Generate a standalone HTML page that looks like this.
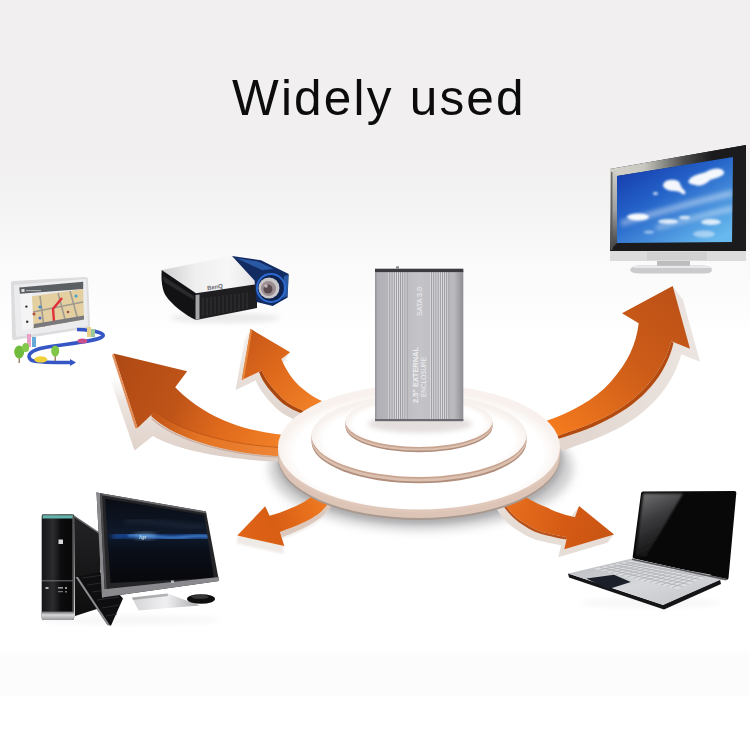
<!DOCTYPE html>
<html><head><meta charset="utf-8">
<style>
html,body{margin:0;padding:0;width:750px;height:750px;overflow:hidden;background:#fff;}
svg{display:block;position:absolute;left:0;top:0;}
.t{position:absolute;left:0;top:0;width:750px;text-align:center;font-family:"Liberation Sans",sans-serif;}
</style></head><body>
<svg width="750" height="750" viewBox="0 0 750 750">
<defs>
  <linearGradient id="bg" gradientUnits="userSpaceOnUse" x1="0" y1="0" x2="0" y2="750">
    <stop offset="0" stop-color="#f1eff0"/>
    <stop offset="0.2" stop-color="#f1eff0"/>
    <stop offset="0.273" stop-color="#f4f3f3"/>
    <stop offset="0.333" stop-color="#f9f9f9"/>
    <stop offset="0.413" stop-color="#fdfdfd"/>
    <stop offset="0.45" stop-color="#ffffff"/>
    <stop offset="1" stop-color="#ffffff"/>
  </linearGradient>
  <linearGradient id="band" x1="0" y1="0" x2="0" y2="1">
    <stop offset="0" stop-color="#ffffff"/>
    <stop offset="0.5" stop-color="#f8f8f8"/>
    <stop offset="1" stop-color="#ffffff"/>
  </linearGradient>
  <linearGradient id="tvscr" x1="0" y1="0" x2="0.8" y2="1">
    <stop offset="0" stop-color="#1232a6"/>
    <stop offset="0.45" stop-color="#2462c8"/>
    <stop offset="1" stop-color="#66b8ee"/>
  </linearGradient>
  <linearGradient id="orange" x1="0" y1="0" x2="1" y2="1">
    <stop offset="0" stop-color="#c4561a"/>
    <stop offset="0.5" stop-color="#e8721f"/>
    <stop offset="1" stop-color="#f08a30"/>
  </linearGradient>
  <linearGradient id="hdd" x1="0" y1="0" x2="1" y2="0">
    <stop offset="0" stop-color="#909096"/>
    <stop offset="0.03" stop-color="#b0b0b6"/>
    <stop offset="0.5" stop-color="#c4c4c8"/>
    <stop offset="0.9" stop-color="#b8b8bd"/>
    <stop offset="1" stop-color="#8c8c92"/>
  </linearGradient>
  <radialGradient id="disc" cx="0.5" cy="0.55" r="0.5">
    <stop offset="0" stop-color="#ffffff"/>
    <stop offset="0.88" stop-color="#ffffff"/>
    <stop offset="1" stop-color="#f8f1ed"/>
  </radialGradient>
  <radialGradient id="disc3" cx="0.5" cy="0.55" r="0.5">
    <stop offset="0" stop-color="#ffffff"/>
    <stop offset="0.88" stop-color="#ffffff"/>
    <stop offset="1" stop-color="#f8f2ee"/>
  </radialGradient>
  <filter id="blur1" x="-20%" y="-20%" width="140%" height="140%"><feGaussianBlur stdDeviation="1.2"/></filter>
  <filter id="blur05" x="-20%" y="-20%" width="140%" height="140%"><feGaussianBlur stdDeviation="0.6"/></filter>
  <filter id="blur2" x="-30%" y="-30%" width="160%" height="160%"><feGaussianBlur stdDeviation="2.5"/></filter>
  <filter id="blur4" x="-50%" y="-50%" width="200%" height="200%"><feGaussianBlur stdDeviation="5"/></filter>
  <linearGradient id="tvtop" gradientUnits="userSpaceOnUse" x1="610" y1="0" x2="746" y2="0">
    <stop offset="0" stop-color="#d4d4cc"/>
    <stop offset="0.25" stop-color="#c8c8c0"/>
    <stop offset="0.55" stop-color="#4a4a4a"/>
    <stop offset="0.75" stop-color="#1b1b1d"/>
    <stop offset="1" stop-color="#1b1b1d"/>
  </linearGradient>
  <linearGradient id="tvleft" gradientUnits="userSpaceOnUse" x1="0" y1="170" x2="0" y2="250">
    <stop offset="0" stop-color="#d0d0c8"/>
    <stop offset="0.5" stop-color="#a0a0a0"/>
    <stop offset="1" stop-color="#3a3a3a"/>
  </linearGradient>
  <linearGradient id="projtop" x1="0" y1="0" x2="1" y2="0">
    <stop offset="0" stop-color="#cfcfd1"/>
    <stop offset="0.35" stop-color="#efeff0"/>
    <stop offset="0.7" stop-color="#f7f7f8"/>
    <stop offset="1" stop-color="#e4e4e6"/>
  </linearGradient>
  <linearGradient id="olb" gradientUnits="userSpaceOnUse" x1="120" y1="360" x2="300" y2="445">
    <stop offset="0" stop-color="#b04a14"/>
    <stop offset="0.35" stop-color="#bf5418"/>
    <stop offset="0.6" stop-color="#e06a1c"/>
    <stop offset="0.85" stop-color="#ee7c24"/>
    <stop offset="1" stop-color="#f4882e"/>
  </linearGradient>
  <linearGradient id="osu" gradientUnits="userSpaceOnUse" x1="245" y1="335" x2="315" y2="405">
    <stop offset="0" stop-color="#c8581a"/>
    <stop offset="0.5" stop-color="#e06a1c"/>
    <stop offset="1" stop-color="#f08028"/>
  </linearGradient>
  <linearGradient id="orb" gradientUnits="userSpaceOnUse" x1="680" y1="290" x2="555" y2="430">
    <stop offset="0" stop-color="#bc5016"/>
    <stop offset="0.45" stop-color="#cc5c18"/>
    <stop offset="1" stop-color="#f47a1e"/>
  </linearGradient>
  <linearGradient id="oll" gradientUnits="userSpaceOnUse" x1="240" y1="535" x2="325" y2="500">
    <stop offset="0" stop-color="#e06418"/>
    <stop offset="0.4" stop-color="#d85e14"/>
    <stop offset="1" stop-color="#f07a22"/>
  </linearGradient>
  <linearGradient id="olr" gradientUnits="userSpaceOnUse" x1="505" y1="500" x2="612" y2="535">
    <stop offset="0" stop-color="#e8701e"/>
    <stop offset="0.6" stop-color="#d45a14"/>
    <stop offset="1" stop-color="#c85414"/>
  </linearGradient>
  <radialGradient id="disc2" cx="0.5" cy="0.55" r="0.5">
    <stop offset="0" stop-color="#ffffff"/>
    <stop offset="0.88" stop-color="#ffffff"/>
    <stop offset="1" stop-color="#f8f2ee"/>
  </radialGradient>
  <linearGradient id="towfront" x1="0" y1="0" x2="1" y2="0">
    <stop offset="0" stop-color="#161618"/>
    <stop offset="0.35" stop-color="#2c2c2e"/>
    <stop offset="0.6" stop-color="#0c0c0e"/>
    <stop offset="1" stop-color="#070708"/>
  </linearGradient>
  <linearGradient id="towside" x1="0" y1="0" x2="0" y2="1">
    <stop offset="0" stop-color="#232325"/>
    <stop offset="1" stop-color="#0d0d0e"/>
  </linearGradient>
  <linearGradient id="towbot" x1="0" y1="0" x2="0" y2="1">
    <stop offset="0" stop-color="#6a6a6e"/>
    <stop offset="0.4" stop-color="#d8d8da"/>
    <stop offset="1" stop-color="#9a9a9e"/>
  </linearGradient>
  <linearGradient id="hpscr" x1="0" y1="0" x2="0" y2="1">
    <stop offset="0" stop-color="#0a0d14"/>
    <stop offset="0.45" stop-color="#0f1a2c"/>
    <stop offset="0.6" stop-color="#0a0f1a"/>
    <stop offset="1" stop-color="#07080b"/>
  </linearGradient>
  <linearGradient id="stand" x1="0" y1="0" x2="1" y2="0">
    <stop offset="0" stop-color="#d4d4d6"/>
    <stop offset="0.5" stop-color="#f0f0f2"/>
    <stop offset="1" stop-color="#a8a8ac"/>
  </linearGradient>
  <linearGradient id="deck" x1="0" y1="0" x2="1" y2="1">
    <stop offset="0" stop-color="#b8b9bc"/>
    <stop offset="0.5" stop-color="#d6d7da"/>
    <stop offset="1" stop-color="#c2c3c6"/>
  </linearGradient>
  <linearGradient id="lbside" gradientUnits="userSpaceOnUse" x1="155" y1="0" x2="300" y2="0">
    <stop offset="0" stop-color="#c45618"/>
    <stop offset="0.3" stop-color="#e47424"/>
    <stop offset="1" stop-color="#f08a3a"/>
  </linearGradient>
  <linearGradient id="lapref" gradientUnits="userSpaceOnUse" x1="645" y1="495" x2="668" y2="545">
    <stop offset="0" stop-color="#6a6a6c"/>
    <stop offset="0.45" stop-color="#3a3a3c"/>
    <stop offset="1" stop-color="#141414"/>
  </linearGradient>
  <linearGradient id="bandtop" x1="0" y1="0" x2="0" y2="1">
    <stop offset="0" stop-color="#fcfcfc" stop-opacity="0"/>
    <stop offset="1" stop-color="#fcfcfc"/>
  </linearGradient>
  <linearGradient id="shs" gradientUnits="userSpaceOnUse" x1="0" y1="335" x2="0" y2="415">
    <stop offset="0" stop-color="#f0ebe8" stop-opacity="0.3"/>
    <stop offset="0.4" stop-color="#e8dfda"/>
    <stop offset="1" stop-color="#dfd3cc"/>
  </linearGradient>
  <clipPath id="hpclip"><polygon points="105,498.5 204,515 214,578 110.5,583"/></clipPath>
  <clipPath id="tvclip"><polygon points="617,176 733,157 732,242 617,243"/></clipPath>
  <clipPath id="rbclip"><polygon points="540,270 750,270 750,470 540,470 540,345 648,345 648,300 540,300"/></clipPath>
</defs>
<rect x="0" y="0" width="750" height="750" fill="url(#bg)"/>
<rect x="0" y="656" width="750" height="40" fill="#fcfcfc"/>
<rect x="0" y="650" width="750" height="6" fill="url(#bandtop)"/>

<!-- ===== TV ===== -->
<g id="tv">
  <polygon points="610,169 746,145 746,252 610,252" fill="#1b1b1d"/>
  <polygon points="610,169 746,145 746,158 733,157.5 617,176 610,176" fill="url(#tvtop)"/>
  <polygon points="610,169 617,172 617,243 610,251" fill="url(#tvleft)"/>
  <polygon points="611,172 612.5,172 612.5,250 611,250" fill="#555" opacity="0.8"/>
  <polygon points="617,176 733,157 732,242 617,243" fill="url(#tvscr)"/>
  <g fill="#ffffff" clip-path="url(#tvclip)">
    <g filter="url(#blur2)" opacity="0.45">
      <path d="M620,221 C 650,212 690,200 733,190 L733,196 C 690,206 655,216 622,226 Z"/>
      <path d="M655,226 C 680,220 705,212 733,206 L733,211 C 705,217 680,224 657,230 Z"/>
    </g>
    <g filter="url(#blur1)">
      <path d="M689,180 C 692,175 700,174 706,172 C 712,168 722,167 724,172 C 725,176 716,178 710,180 C 706,184 700,187 695,185 C 690,184 687,183 689,180 Z" opacity="0.95"/>
      <path d="M664,183 C 666,179 674,179 678,181 C 681,183 680,187 684,190 C 687,193 685,196 681,193 C 677,190 672,192 668,190 C 663,188 662,185 664,183 Z" opacity="0.95"/>
      <ellipse cx="655.5" cy="193.5" rx="2.5" ry="1.6" opacity="0.8"/>
      <ellipse cx="638" cy="217" rx="11" ry="3.5" opacity="0.95"/>
      <ellipse cx="668" cy="221.5" rx="10" ry="2.6" opacity="0.8"/>
      <ellipse cx="684.5" cy="217.5" rx="5.5" ry="1.8" opacity="0.75"/>
      <ellipse cx="711" cy="222" rx="10" ry="3" opacity="0.8"/>
      <ellipse cx="704" cy="234" rx="11" ry="3.5" opacity="0.45"/>
      <ellipse cx="649" cy="232" rx="5" ry="1.5" opacity="0.5"/>
    </g>
  </g>
  <rect x="610" y="251" width="136" height="10" fill="#dcdcdc"/>
  <rect x="647" y="252" width="60" height="8" fill="#d0d0d0"/>
  <rect x="657" y="261" width="33" height="5" fill="#bdbdbd"/>
  <path d="M630,270 Q631,265.5 640,265.5 L704,265.5 Q712,266 712,270 Q712,273.5 704,273.5 L640,273.5 Q631,273.5 630,270 Z" fill="#cbcbcd"/>
  <rect x="634" y="266" width="76" height="2" fill="#e8e8ea"/>
</g>
<!-- ===== Projector ===== -->
<g id="proj">
  <ellipse cx="225" cy="318" rx="55" ry="5" fill="#dcdcdc" filter="url(#blur2)" opacity="0.6"/>
  <polygon points="161.7,269.9 232,256 255,278 257,284 196,293.3" fill="url(#projtop)"/>
  <path d="M161.7,269.9 L196,293.3 L196,320 C 185,315 172,305 166,296 C 162,290 161,280 161.7,269.9 Z" fill="#121214"/>
  <path d="M163,276 L194,296 L194,300 L164,282 Z" fill="#3a3a3c" opacity="0.6"/>
  <polygon points="196,293.3 257,284 257,308 196,320" fill="#1e1e20"/>
  <polygon points="195.5,295 199.5,294.5 199.5,319 195.5,320" fill="#a4a4a8"/>
  <g stroke="#3a3a3c" stroke-width="0.8">
    <line x1="203" y1="298" x2="203" y2="316"/><line x1="207" y1="297.5" x2="207" y2="315.5"/><line x1="211" y1="297" x2="211" y2="315"/><line x1="215" y1="296.5" x2="215" y2="314"/><line x1="219" y1="296" x2="219" y2="313.5"/><line x1="223" y1="295.5" x2="223" y2="313"/><line x1="227" y1="295" x2="227" y2="312"/><line x1="231" y1="294.5" x2="231" y2="311.5"/><line x1="235" y1="294" x2="235" y2="311"/><line x1="239" y1="293.5" x2="239" y2="310"/><line x1="243" y1="293" x2="243" y2="309.5"/><line x1="247" y1="292.5" x2="247" y2="309"/>
  </g>
  <polygon points="232,256 261,260.3 288.7,274.1 287.6,297.6 272.7,306.1 256.7,301.9 254.5,280.5" fill="#122c62"/>
  <polygon points="236,258 258,261.5 274,269 262,270" fill="#3a78d0" opacity="0.6"/>
  <polygon points="284,276 288.5,275 287.5,296 283,298" fill="#3a78d0" opacity="0.6"/>
  <circle cx="271" cy="288" r="15" fill="#2d6ad0"/>
  <circle cx="271" cy="288" r="13" fill="#0e2350"/>
  <circle cx="269" cy="288" r="10.5" fill="#c9c6c8"/>
  <circle cx="268.5" cy="288.5" r="7.5" fill="#9a8c90"/>
  <circle cx="268" cy="289" r="4.5" fill="#5a4a50"/>
  <circle cx="266" cy="286" r="1.8" fill="#e8e0e4" opacity="0.7"/>
  <text x="207" y="289" font-family="Liberation Sans, sans-serif" font-size="6" font-weight="bold" fill="#6a6a70" transform="rotate(-9 215 287)">BenQ</text>
</g>
<!-- ===== GPS ===== -->
<g id="gps" filter="url(#blur05)">
  <path d="M11,284 Q10,281 14,281 L85,277 Q88,277 88,280 L90,325 Q90,328 87,328.5 L15,340 Q12,340.5 12,337 Z" fill="#dcdcde"/>
  <path d="M14,285 L86,279 L88,326 L16,337 Z" fill="#ececee"/>
  <path d="M20,288 L32,287 L33.6,328.2 L22,331 Z" fill="#f4f4f5"/>
  <polygon points="19.2,287.4 83.2,281.8 83.2,289 20,293.8" fill="#5a5e64"/>
  <rect x="21.5" y="289" width="3" height="3" fill="#ddd"/>
  <rect x="26" y="290" width="15" height="1.2" fill="#aaa"/>
  <polygon points="32,296.2 83.2,289 84,319.4 33.6,328.2" fill="#e3cf9f"/>
  <g stroke="#9a9590" stroke-width="1.6" fill="none" opacity="0.9">
    <path d="M40,296 L44,327"/><path d="M58,293 L66,323"/><path d="M33,312 L83,302"/><path d="M70,291 L78,320"/>
  </g>
  <path d="M62,298 L53,309 L54,321" stroke="#e0303a" stroke-width="2.4" fill="none"/>
  <circle cx="40" cy="307" r="1.6" fill="#3a8ad0"/><circle cx="40" cy="318" r="1.5" fill="#4a6ad0"/><circle cx="34" cy="314" r="1.5" fill="#b05040"/><circle cx="76" cy="296" r="1.5" fill="#3aa0d0"/><circle cx="68" cy="312" r="1.3" fill="#a05040"/>
  <polygon points="34,324 84,315.5 84,319.4 33.6,328.2" fill="#7a7a7e"/>
  <circle cx="26.4" cy="306.6" r="1.2" fill="#333"/>
  <circle cx="27.2" cy="321.8" r="1.2" fill="#333"/>
  <path d="M77,329.5 C 95,330 110,334 100,338 C 90,342 65,344 45,347.5 C 30,350 26,356 31,360 C 36,363 55,362.5 72,362.5" fill="none" stroke="#3556c4" stroke-width="3.6"/>
  <polygon points="70,359 76,362.6 70,366" fill="#3556c4"/>
  <rect x="27" y="334" width="4" height="13" fill="#e9a0c6"/>
  <rect x="32" y="337" width="4" height="10" fill="#66a8d8"/>
  <rect x="87" y="327" width="4" height="10" fill="#e6d08a"/>
  <rect x="91" y="329" width="4" height="8" fill="#9cc8a0"/>
  <line x1="19.2" y1="352" x2="19.2" y2="363" stroke="#8a6a4a" stroke-width="1.2"/>
  <line x1="55.2" y1="352" x2="55.2" y2="361" stroke="#8a6a4a" stroke-width="1.2"/>
  <ellipse cx="19.2" cy="352" rx="5" ry="6.5" fill="#70bb3a"/>
  <ellipse cx="25.6" cy="347.4" rx="3.5" ry="4.5" fill="#84c84a"/>
  <ellipse cx="55.2" cy="351" rx="4" ry="5.5" fill="#80c648"/>
  <ellipse cx="40.8" cy="359.4" rx="6.5" ry="3.2" fill="#f0d03a"/>
  <ellipse cx="82.4" cy="341" rx="5" ry="2.5" fill="#c8508a"/>
</g>
<!-- ===== Arrows & platform ===== -->
<defs>
<path id="lba" d="M113.6,353.6 L187.2,371.2 L175.2,387.2 C 200,413 240,434 300,436 L300,448 C 240,448 180,433 155.2,411.2 L137.6,428 Z"/>
<path id="sua" d="M250.5,328.8 L290.1,352.3 L281.3,358.9 C 286,370 293,381 303,389 C 308,393 313,397 322,401 L304,411 C 295,407 288,404 282,398 C 274,390 266,381 261.5,370.6 L241.7,380.1 Z"/>
<path id="rba" d="M672.7,286 L690,348.7 L671.3,341.3 C 663,372 640,400 605,417 C 585,427 568,432 552,438 L546,421 C 570,413 595,400 611,381.6 C 628,362 636,345 638.7,323.3 L622,313.3 Z"/>
<path id="lla" d="M237.3,535.6 L265.2,506.3 L269.6,515.8 C 280,513 295,507 303,502.6 C 307,500 310,498 314,494 L330,501 C 326,507 322,511 318,514.3 C 310,520 300,525 279.9,531.9 L284.3,545.9 Z"/>
<path id="lra" d="M614.1,534.4 L579,506 L575,517.3 C 562,514 553,511 548.3,508 C 538,504 530,500 521,494 L 500,497 C 508,510 515,518 524.3,522.7 C 532,528 540,532 548.3,533.3 C 555,535 561,536 567,537.3 L564.3,549.3 Z"/>
<linearGradient id="shl" gradientUnits="userSpaceOnUse" x1="0" y1="375" x2="0" y2="460">
    <stop offset="0" stop-color="#f4f0ee" stop-opacity="0"/>
    <stop offset="0.3" stop-color="#ece4df"/>
    <stop offset="1" stop-color="#ddcfc6"/>
  </linearGradient>
  <linearGradient id="shr" gradientUnits="userSpaceOnUse" x1="700" y1="0" x2="560" y2="0">
    <stop offset="0" stop-color="#ece6e2"/>
    <stop offset="1" stop-color="#e2d6cf"/>
  </linearGradient>
</defs>
<g id="arrows">
<ellipse cx="421" cy="468" rx="152" ry="62" fill="#c6c6c8" opacity="0.85" filter="url(#blur4)"/>
<ellipse cx="420" cy="461" rx="143" ry="63" fill="#a8a8aa" opacity="0.85" filter="url(#blur2)"/>
<path d="M110.5,380 L134.5,450.5 L152.8,436 C 180,452 240,462 300,462 L300,448 C 240,448 180,433 155.2,411.2 L137.6,428 L113.6,353.6 Z" fill="url(#shl)" filter="url(#blur05)"/>
<path d="M156,408 C 180,430 240,445 300,445 L300,457 C 240,457 178,442 151,416 Z" fill="url(#lbside)"/>
<path d="M152,418 C 180,443 240,457 300,457 L300,458.5 C 240,458.5 178,444 151,419 Z" fill="#c8a898" opacity="0.8"/>
<use href="#lba" fill="url(#olb)"/>
<path d="M155.2,411.2 C 180,433 240,448 300,448" fill="none" stroke="#a8460e" stroke-width="0.9" opacity="0.6"/>
<path d="M113.6,353.6 L137.6,428 L135.5,428.5 L112,355 Z" fill="#dd7434" opacity="0.8"/>
<g fill="url(#shs)" filter="url(#blur05)"><use href="#sua" transform="translate(-0.50,0.83)"/><use href="#sua" transform="translate(-1.00,1.67)"/><use href="#sua" transform="translate(-1.50,2.50)"/><use href="#sua" transform="translate(-2.00,3.33)"/><use href="#sua" transform="translate(-2.50,4.17)"/><use href="#sua" transform="translate(-3.00,5.00)"/><use href="#sua" transform="translate(-3.50,5.83)"/><use href="#sua" transform="translate(-4.00,6.67)"/><use href="#sua" transform="translate(-4.50,7.50)"/><use href="#sua" transform="translate(-5.00,8.33)"/><use href="#sua" transform="translate(-5.50,9.17)"/><use href="#sua" transform="translate(-6.00,10.00)"/></g>
<path d="M261.5,370.6 C 266,381 274,390 282,398 C 288,404 295,407 304,411 L303,414 C 293,410 285,406 279,400 C 271,392 263,383 259,372 Z" fill="#a9470f"/>
<use href="#sua" fill="url(#osu)"/>
<path d="M250.5,328.8 L241.7,380.1 L244,379 L252,331 Z" fill="#f09a50" opacity="0.7"/>
<g fill="url(#shr)" filter="url(#blur05)" clip-path="url(#rbclip)"><use href="#rba" transform="translate(0.71,0.93)"/><use href="#rba" transform="translate(1.43,1.86)"/><use href="#rba" transform="translate(2.14,2.79)"/><use href="#rba" transform="translate(2.86,3.71)"/><use href="#rba" transform="translate(3.57,4.64)"/><use href="#rba" transform="translate(4.29,5.57)"/><use href="#rba" transform="translate(5.00,6.50)"/><use href="#rba" transform="translate(5.71,7.43)"/><use href="#rba" transform="translate(6.43,8.36)"/><use href="#rba" transform="translate(7.14,9.29)"/><use href="#rba" transform="translate(7.86,10.21)"/><use href="#rba" transform="translate(8.57,11.14)"/><use href="#rba" transform="translate(9.29,12.07)"/><use href="#rba" transform="translate(10.00,13.00)"/></g>
<path d="M671.3,341.3 C 663,372 640,400 605,417 C 585,427 568,432 552,438 L553,440.5 C 570,435 588,430 607,420 C 643,402 666,375 673.5,343 Z" fill="#b34a10"/>
<use href="#rba" fill="url(#orb)"/>
<g fill="#ebe5e1" filter="url(#blur1)" opacity="0.8"><use href="#lla" transform="translate(-0.12,1.00)"/><use href="#lla" transform="translate(-0.25,2.00)"/><use href="#lla" transform="translate(-0.38,3.00)"/><use href="#lla" transform="translate(-0.50,4.00)"/><use href="#lla" transform="translate(-0.62,5.00)"/><use href="#lla" transform="translate(-0.75,6.00)"/><use href="#lla" transform="translate(-0.88,7.00)"/><use href="#lla" transform="translate(-1.00,8.00)"/></g>
<path d="M279.9,531.9 C 300,525 310,520 318,514.3 C 322,511 326,507 330,501 L332,505 C 328,511 324,515 320,518 C 312,524 301,530 282,537 Z" fill="#dcc8bc"/>
<use href="#lla" fill="url(#oll)"/>
<g fill="#e6ddd7" filter="url(#blur05)" ><use href="#lra" transform="translate(-0.75,1.00)"/><use href="#lra" transform="translate(-1.50,2.00)"/><use href="#lra" transform="translate(-2.25,3.00)"/><use href="#lra" transform="translate(-3.00,4.00)"/><use href="#lra" transform="translate(-3.75,5.00)"/><use href="#lra" transform="translate(-4.50,6.00)"/><use href="#lra" transform="translate(-5.25,7.00)"/><use href="#lra" transform="translate(-6.00,8.00)"/></g>
<path d="M500,497 C 508,510 515,518 524.3,522.7 C 532,528 540,532 548.3,533.3 C 555,535 561,536 567,537.3 L566.5,539.5 C 560,538.5 553,537 547,535.5 C 538,533.5 530,530 523,525 C 513,519 506,511 499,499 Z" fill="#b8501a"/>
<use href="#lra" fill="url(#olr)"/>
</g>

<!-- ===== Platform ===== -->
<g id="platform">
  <g filter="url(#blur05)">
  <ellipse cx="419" cy="457.5" rx="141" ry="62.5" fill="#a89a90"/>
  <ellipse cx="419" cy="455.5" rx="141" ry="62.5" fill="#dcc4b6"/>
  <ellipse cx="419" cy="450" rx="141" ry="62.5" fill="#e0c8ba"/>
  </g>
  <ellipse cx="419" cy="447" rx="141" ry="62.5" fill="url(#disc)"/>
  <g filter="url(#blur05)">
  <ellipse cx="419" cy="441.8" rx="107.5" ry="41.5" fill="#b08e7c"/>
  <ellipse cx="419" cy="440" rx="107.5" ry="41.5" fill="#dcc0b0"/>
  <ellipse cx="419" cy="437.2" rx="107.5" ry="41.5" fill="#c8a490"/>
  </g>
  <ellipse cx="419" cy="435.5" rx="107.5" ry="41.5" fill="url(#disc2)"/>
  <g filter="url(#blur05)">
  <ellipse cx="419" cy="426.8" rx="73.5" ry="25.4" fill="#b08e7c"/>
  <ellipse cx="419" cy="425.2" rx="73.5" ry="25.4" fill="#dcc0b0"/>
  <ellipse cx="419" cy="423.2" rx="73.5" ry="25.4" fill="#c8a490"/>
  </g>
  <ellipse cx="419" cy="421.6" rx="73.5" ry="25.4" fill="url(#disc3)"/>
  <ellipse cx="420" cy="424" rx="52" ry="9" fill="#d9d2d0" opacity="0.7" filter="url(#blur2)"/>
</g>

<!-- ===== HDD ===== -->
<g id="hdd">
  <rect x="375" y="270" width="88.3" height="151" fill="url(#hdd)"/>
  <rect x="388.50" y="272" width="0.9" height="147" fill="#e2e2e6"/>
  <rect x="389.50" y="272" width="0.7" height="147" fill="#909096"/>
  <rect x="390.65" y="272" width="0.9" height="147" fill="#e2e2e6"/>
  <rect x="391.65" y="272" width="0.7" height="147" fill="#909096"/>
  <rect x="392.80" y="272" width="0.9" height="147" fill="#e2e2e6"/>
  <rect x="393.80" y="272" width="0.7" height="147" fill="#909096"/>
  <rect x="394.95" y="272" width="0.9" height="147" fill="#e2e2e6"/>
  <rect x="395.95" y="272" width="0.7" height="147" fill="#909096"/>
  <rect x="397.10" y="272" width="0.9" height="147" fill="#e2e2e6"/>
  <rect x="398.10" y="272" width="0.7" height="147" fill="#909096"/>
  <rect x="399.25" y="272" width="0.9" height="147" fill="#e2e2e6"/>
  <rect x="400.25" y="272" width="0.7" height="147" fill="#909096"/>
  <rect x="401.40" y="272" width="0.9" height="147" fill="#e2e2e6"/>
  <rect x="402.40" y="272" width="0.7" height="147" fill="#909096"/>
  <rect x="403.55" y="272" width="0.9" height="147" fill="#e2e2e6"/>
  <rect x="404.55" y="272" width="0.7" height="147" fill="#909096"/>
  <rect x="405.70" y="272" width="0.9" height="147" fill="#e2e2e6"/>
  <rect x="406.70" y="272" width="0.7" height="147" fill="#909096"/>
  <rect x="430.30" y="272" width="0.9" height="147" fill="#e2e2e6"/>
  <rect x="431.30" y="272" width="0.7" height="147" fill="#909096"/>
  <rect x="432.45" y="272" width="0.9" height="147" fill="#e2e2e6"/>
  <rect x="433.45" y="272" width="0.7" height="147" fill="#909096"/>
  <rect x="434.60" y="272" width="0.9" height="147" fill="#e2e2e6"/>
  <rect x="435.60" y="272" width="0.7" height="147" fill="#909096"/>
  <rect x="436.75" y="272" width="0.9" height="147" fill="#e2e2e6"/>
  <rect x="437.75" y="272" width="0.7" height="147" fill="#909096"/>
  <rect x="438.90" y="272" width="0.9" height="147" fill="#e2e2e6"/>
  <rect x="439.90" y="272" width="0.7" height="147" fill="#909096"/>
  <rect x="441.05" y="272" width="0.9" height="147" fill="#e2e2e6"/>
  <rect x="442.05" y="272" width="0.7" height="147" fill="#909096"/>
  <rect x="443.20" y="272" width="0.9" height="147" fill="#e2e2e6"/>
  <rect x="444.20" y="272" width="0.7" height="147" fill="#909096"/>
  <rect x="445.35" y="272" width="0.9" height="147" fill="#e2e2e6"/>
  <rect x="446.35" y="272" width="0.7" height="147" fill="#909096"/>
  <rect x="447.50" y="272" width="0.9" height="147" fill="#e2e2e6"/>
  <rect x="448.50" y="272" width="0.7" height="147" fill="#909096"/>
  <rect x="375" y="268.7" width="88.3" height="3.4" fill="#3c3c40"/>
  <rect x="396" y="266.3" width="3" height="2.4" fill="#8a8a8e"/>
  <rect x="375" y="419" width="88.3" height="2.2" fill="#6a6a70"/>
  <g font-family="Liberation Sans, sans-serif" fill="#eeeef0">
    <text transform="translate(417.8,403) rotate(-90)" font-size="7.6" font-weight="bold" textLength="56" lengthAdjust="spacingAndGlyphs">2.5" EXTERNAL</text>
    <text transform="translate(426.3,397) rotate(-90)" font-size="7.2" textLength="40" lengthAdjust="spacingAndGlyphs">ENCLOSURE</text>
    <text transform="translate(422,316) rotate(-90)" font-size="7" textLength="29" lengthAdjust="spacingAndGlyphs">SATA 3.0</text>
  </g>
</g>

<!-- ===== Desktop ===== -->
<g id="desktop">
  <ellipse cx="130" cy="620" rx="90" ry="5" fill="#e8e8e8" filter="url(#blur2)" opacity="0.35"/>
  <!-- tower side -->
  <polygon points="74,515.5 100,533 100,608 75,616" fill="url(#towside)"/>
  <polygon points="74,515.5 100,533 100,534.5 74,517" fill="#8a8a8c" opacity="0.7"/>
  <!-- tower front -->
  <path d="M43.5,514 L72,514 Q74,514 74,516 L74,618 Q74,620 72,620 L44,620 Q41.7,620 41.7,618 L41.7,516 Q41.7,514 43.5,514 Z" fill="url(#towfront)"/>
  <rect x="42.5" y="514.5" width="30.5" height="1" fill="#b8c8c8"/>
  <rect x="42.5" y="515.5" width="30.5" height="3" fill="#62b4ac"/>
  <rect x="72.3" y="516" width="2" height="102" fill="#6a6a6c" opacity="0.8"/>
  <rect x="42" y="580.3" width="31" height="1" fill="#8a8a8c" opacity="0.8"/>
  <path d="M41.7,611.5 L74,611.5 L74,618 Q74,620 72,620 L44,620 Q41.7,620 41.7,618 Z" fill="url(#towbot)"/>
  <rect x="58.5" y="539.5" width="4.5" height="4.5" fill="#d8d8d8"/>
  <rect x="45.5" y="587" width="3" height="2" fill="#bbb"/><rect x="58" y="587" width="5" height="1.6" fill="#999"/><rect x="65" y="587" width="2" height="2" fill="#999"/>
  <rect x="58" y="591" width="5" height="1.2" fill="#777"/><rect x="65" y="591" width="2" height="1.5" fill="#777"/>
  <!-- keyboard -->
  <polygon points="75.5,577 100,572 123,598.5 111,625.5 107.5,625" fill="#0e0e10"/>
  <polygon points="75.5,577 78,577 110,625.5 107.5,625" fill="#8e8e92"/>
  <g stroke="#2e2e32" stroke-width="0.8">
    <line x1="82" y1="578" x2="103" y2="575"/><line x1="87" y1="585" x2="109" y2="582"/><line x1="92" y1="592" x2="114" y2="589"/><line x1="97" y1="600" x2="119" y2="597"/><line x1="102" y1="608" x2="120" y2="605"/><line x1="106" y1="616" x2="117" y2="614"/>
  </g>
  <!-- monitor -->
  <polygon points="96.5,492.5 206,511.5 219,581 102,597.5" fill="#252527"/>
  <polygon points="96.5,492.5 206,511.5 206.3,513.3 97,494.3" fill="#6a6a6e"/>
  <polygon points="96.5,492.5 100,493.5 105,597 102,597.5" fill="#8a8a8e"/>
  <polygon points="100,493.5 102,494 107,596.5 105,597" fill="#4a4a4e"/>
  <polygon points="105,498.5 204,515 214,578 110.5,583" fill="url(#hpscr)"/>
  <g clip-path="url(#hpclip)">
  <path d="M112,537 C 135,531 160,541 185,537 C 197,535 207,536 216,537" stroke="#1d56b8" stroke-width="8" fill="none" opacity="0.7" filter="url(#blur2)"/>
  <path d="M128,535.5 C 145,533 165,540 185,537 C 197,535.5 205,536 214,537" stroke="#6ab4ff" stroke-width="1.8" fill="none" opacity="0.7" filter="url(#blur1)"/>
  <ellipse cx="145" cy="536" rx="12" ry="3" fill="#9ad0ff" opacity="0.5" filter="url(#blur2)"/>
  <path d="M125,522 C 150,518 180,528 205,527" stroke="#3a4a60" stroke-width="3" fill="none" opacity="0.45" filter="url(#blur2)"/>
  </g>
  <text x="139" y="539" font-family="Liberation Serif, serif" font-style="italic" font-size="7" fill="#d8ecff">hp</text>
  <polygon points="102,589.5 219,577 219,581 102,597.5" fill="#8a8a8e"/>
  <rect x="171" y="580.5" width="3" height="2.5" fill="#bbb"/>
  <!-- stand -->
  <polygon points="132,597.5 167.5,593.5 200,605.4 138.5,610.5" fill="url(#stand)"/>
  <polygon points="132,597.5 167.5,593.5 168,596 133,600" fill="#8a8a8e" opacity="0.6"/>
  <!-- mouse -->
  <ellipse cx="201" cy="599" rx="14" ry="4.8" fill="#0e0e0e"/>
  <ellipse cx="200" cy="596.8" rx="9" ry="2" fill="#4a4a4c" opacity="0.7"/>
</g>

<!-- ===== Laptop ===== -->
<g id="laptop">
  <ellipse cx="650" cy="603" rx="70" ry="5" fill="#e8e8e8" filter="url(#blur2)" opacity="0.35"/>
  <!-- lid -->
  <path d="M643,491.5 L734.5,491 Q736.5,491 736.3,493 L728.5,578 Q728.3,580 726.3,579.6 L634,558.5 Q632.5,558.2 632.7,556.5 L641,493.5 Q641.3,491.5 643,491.5 Z" fill="#080808"/>
  <polygon points="643.4,493.5 683,493.5 646,557 635.5,555.4" fill="url(#lapref)" filter="url(#blur1)"/>
  <!-- deck bottom edge -->
  <polygon points="568,573.6 663,605 720,579.5 721,584 664,609.5 569,577.5" fill="#151517"/>
  <!-- deck -->
  <polygon points="632,558.5 727,579 720,580 663.2,604.8 568.4,573.6" fill="url(#deck)"/>
  <polygon points="593.6,568.8 632,560.4 711.2,574.8 677.6,589.2" fill="#dcdde0"/>
  <g stroke="#a8a9ad" stroke-width="0.7">
  <line x1="625.6" y1="561.8" x2="705.6" y2="577.2"/>
  <line x1="619.2" y1="563.2" x2="700.0" y2="579.6"/>
  <line x1="612.8" y1="564.6" x2="694.4" y2="582.0"/>
  <line x1="606.4" y1="566.0" x2="688.8" y2="584.4"/>
  <line x1="600.0" y1="567.4" x2="683.2" y2="586.8"/>
  <line x1="637.3" y1="561.4" x2="599.2" y2="570.2"/>
  <line x1="642.6" y1="562.3" x2="604.8" y2="571.5"/>
  <line x1="647.8" y1="563.3" x2="610.4" y2="572.9"/>
  <line x1="653.1" y1="564.2" x2="616.0" y2="574.2"/>
  <line x1="658.4" y1="565.2" x2="621.6" y2="575.6"/>
  <line x1="663.7" y1="566.2" x2="627.2" y2="577.0"/>
  <line x1="669.0" y1="567.1" x2="632.8" y2="578.3"/>
  <line x1="674.2" y1="568.1" x2="638.4" y2="579.7"/>
  <line x1="679.5" y1="569.0" x2="644.0" y2="581.0"/>
  <line x1="684.8" y1="570.0" x2="649.6" y2="582.4"/>
  <line x1="690.1" y1="571.0" x2="655.2" y2="583.8"/>
  <line x1="695.4" y1="571.9" x2="660.8" y2="585.1"/>
  <line x1="700.6" y1="572.9" x2="666.4" y2="586.5"/>
  <line x1="705.9" y1="573.8" x2="672.0" y2="587.8"/>
  </g>
  <polygon points="586.4,578.4 614,574.8 630.8,582 608,589.2" fill="#1a1f2a"/>
  <polygon points="632,558.5 727,579 726,580.5 632,560" fill="#58585c"/>
</g>
</svg>
<div class="t" style="left:232px;width:auto;text-align:left;top:69px;font-size:49.5px;letter-spacing:2.2px;color:#0c0c0c;white-space:nowrap;">Widely used</div>
</body></html>
